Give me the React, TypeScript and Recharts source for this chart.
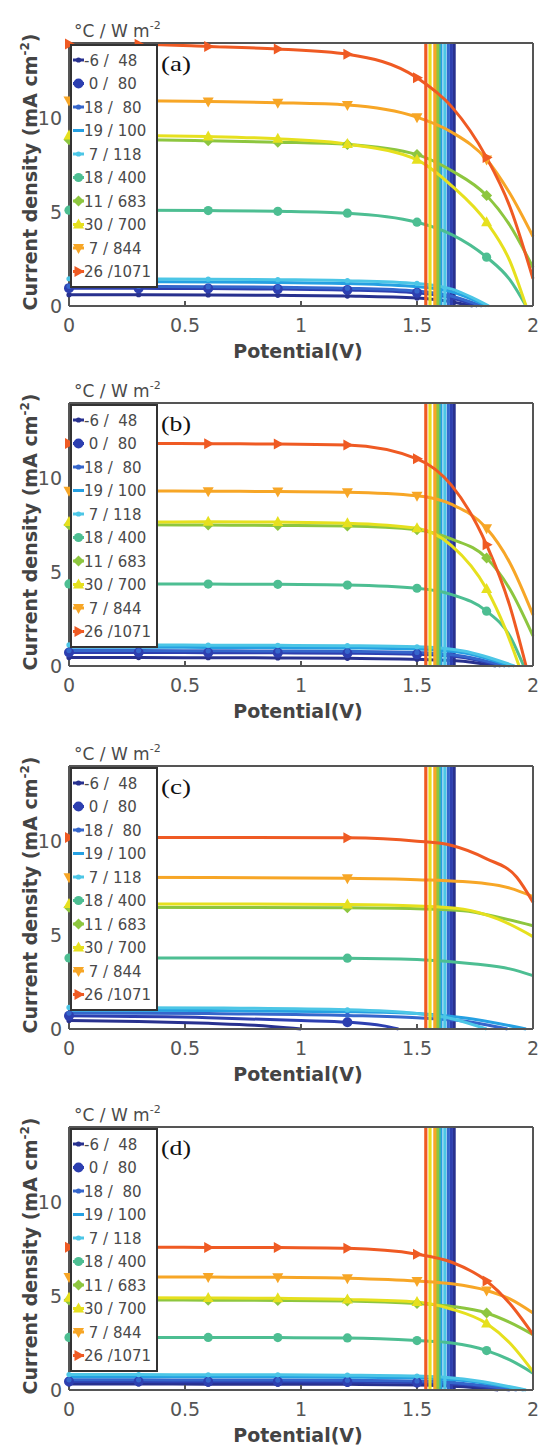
import React from 'react';
import { LineChart, Line, XAxis, YAxis, Legend } from 'recharts';

// ---- shared data ----
const seriesNames = ['-6 /  48', ' 0 /  80', '18 /  80', '19 / 100', ' 7 / 118', '18 / 400', '11 / 683', '30 / 700', ' 7 / 844', '26 /1071'];
const seriesColors = ['#28318F', '#2D3FB0', '#3566CC', '#25A0E2', '#4CC6E6', '#4DBE92', '#8DC63F', '#E6E01E', '#F7A626', '#EF5A23'];
const seriesMarkers = ['point', 'bigdot', 'point', 'none', 'point', 'circle', 'diamond', 'triUp', 'triDown', 'triRight'];
const xTicks = [0, 0.5, 1, 1.5, 2];
const yTicks = [0, 5, 10];
const panelTags = ['(a)', '(b)', '(c)', '(d)'];
const markerXsFull = [0, 0.3, 0.6, 0.9, 1.2, 1.5, 1.8];
const markerXsSparse = [0, 1.2];
const vlineX = [1.66, 1.648, 1.635, 1.603, 1.62, 1.595, 1.588, 1.556, 1.577, 1.538];

// ---- panel (a) curves: [potential V, current density mA cm^-2] ----
const curvesA = [
  [[0, 0.6], [0.3, 0.6], [0.6, 0.59], [0.9, 0.57], [1.2, 0.53], [1.5, 0.42], [1.62, 0.28], [1.74, 0]],
  [[0, 0.95], [0.3, 0.94], [0.6, 0.93], [0.9, 0.9], [1.2, 0.85], [1.5, 0.7], [1.65, 0.42], [1.76, 0]],
  [[0, 1.05], [0.3, 1.04], [0.6, 1.03], [0.9, 1.0], [1.2, 0.95], [1.5, 0.8], [1.65, 0.52], [1.78, 0]],
  [[0, 1.3], [0.3, 1.29], [0.6, 1.28], [0.9, 1.25], [1.2, 1.2], [1.5, 1.03], [1.65, 0.75], [1.8, 0]],
  [[0, 1.45], [0.3, 1.44], [0.6, 1.43], [0.9, 1.4], [1.2, 1.35], [1.5, 1.2], [1.65, 0.9], [1.81, 0]],
  [[0, 5.1], [0.3, 5.1], [0.6, 5.08], [0.9, 5.04], [1.2, 4.94], [1.5, 4.46], [1.65, 3.8], [1.8, 2.6], [1.9, 1.4], [1.97, 0]],
  [[0, 8.85], [0.3, 8.85], [0.6, 8.8], [0.9, 8.72], [1.2, 8.6], [1.5, 8.06], [1.65, 7.2], [1.8, 5.88], [1.9, 4.3], [2.0, 2.05]],
  [[0, 9.08], [0.3, 9.07], [0.6, 9.02], [0.9, 8.9], [1.2, 8.62], [1.5, 7.78], [1.65, 6.4], [1.8, 4.46], [1.9, 2.4], [1.97, 0]],
  [[0, 10.94], [0.3, 10.93], [0.6, 10.88], [0.9, 10.82], [1.2, 10.7], [1.5, 10.05], [1.65, 9.25], [1.8, 7.8], [1.9, 6.0], [2.0, 3.7]],
  [[0, 13.95], [0.3, 13.93], [0.6, 13.82], [0.9, 13.68], [1.2, 13.4], [1.5, 12.15], [1.65, 10.6], [1.8, 7.9], [1.9, 5.3], [2.0, 1.45]],
];

const curvesB = [
  [[0, 0.45], [0.3, 0.45], [0.6, 0.44], [0.9, 0.43], [1.2, 0.41], [1.5, 0.36], [1.7, 0.25], [1.84, 0]],
  [[0, 0.72], [0.3, 0.72], [0.6, 0.71], [0.9, 0.7], [1.2, 0.68], [1.5, 0.62], [1.7, 0.45], [1.86, 0]],
  [[0, 0.82], [0.3, 0.82], [0.6, 0.81], [0.9, 0.8], [1.2, 0.78], [1.5, 0.72], [1.7, 0.52], [1.88, 0]],
  [[0, 1.0], [0.3, 1.0], [0.6, 0.99], [0.9, 0.98], [1.2, 0.96], [1.5, 0.9], [1.7, 0.7], [1.9, 0]],
  [[0, 1.12], [0.3, 1.12], [0.6, 1.11], [0.9, 1.1], [1.2, 1.08], [1.5, 1.02], [1.7, 0.8], [1.92, 0]],
  [[0, 4.37], [0.3, 4.37], [0.6, 4.36], [0.9, 4.35], [1.2, 4.31], [1.5, 4.14], [1.65, 3.8], [1.8, 2.92], [1.9, 1.6], [1.96, 0]],
  [[0, 7.52], [0.3, 7.52], [0.6, 7.5], [0.9, 7.48], [1.2, 7.45], [1.5, 7.25], [1.65, 6.75], [1.8, 5.75], [1.9, 4.1], [2.0, 1.6]],
  [[0, 7.66], [0.3, 7.66], [0.6, 7.68], [0.9, 7.66], [1.2, 7.6], [1.5, 7.33], [1.65, 6.4], [1.8, 4.1], [1.88, 2.0], [1.94, 0]],
  [[0, 9.33], [0.3, 9.32], [0.6, 9.3], [0.9, 9.29], [1.2, 9.25], [1.5, 9.06], [1.65, 8.6], [1.8, 7.33], [1.9, 5.5], [2.0, 2.72]],
  [[0, 11.85], [0.3, 11.85], [0.6, 11.83], [0.9, 11.82], [1.2, 11.76], [1.5, 11.03], [1.65, 9.6], [1.8, 6.45], [1.9, 3.2], [1.97, 0]],
];

const curvesC = [
  [[0, 0.45], [0.3, 0.4], [0.6, 0.3], [0.8, 0.2], [1.0, 0]],
  [[0, 0.7], [0.6, 0.6], [1.0, 0.45], [1.2, 0.36], [1.35, 0.18], [1.42, 0]],
  [[0, 0.85], [0.6, 0.82], [1.2, 0.72], [1.5, 0.6], [1.7, 0.42], [1.89, 0]],
  [[0, 1.0], [0.6, 0.98], [1.2, 0.92], [1.5, 0.82], [1.7, 0.6], [1.97, 0]],
  [[0, 1.15], [0.6, 1.12], [1.2, 1.02], [1.5, 0.82], [1.65, 0.55], [1.8, 0]],
  [[0, 3.78], [0.6, 3.78], [1.2, 3.77], [1.5, 3.7], [1.75, 3.46], [1.9, 3.2], [2.0, 2.84]],
  [[0, 6.48], [0.6, 6.47], [1.2, 6.45], [1.5, 6.4], [1.7, 6.3], [1.85, 5.95], [2.0, 5.5]],
  [[0, 6.66], [0.6, 6.66], [1.2, 6.63], [1.5, 6.55], [1.7, 6.38], [1.85, 5.85], [2.0, 4.92]],
  [[0, 8.08], [0.6, 8.07], [1.2, 8.03], [1.5, 7.95], [1.8, 7.73], [1.9, 7.5], [2.0, 7.05]],
  [[0, 10.2], [0.6, 10.2], [1.2, 10.18], [1.5, 10.0], [1.65, 9.77], [1.8, 9.06], [1.93, 8.08], [2.0, 6.75]],
];

const curvesD = [
  [[0, 0.32], [0.3, 0.32], [0.6, 0.31], [0.9, 0.31], [1.2, 0.3], [1.5, 0.27], [1.7, 0.17], [1.85, 0]],
  [[0, 0.45], [0.3, 0.45], [0.6, 0.44], [0.9, 0.44], [1.2, 0.43], [1.5, 0.4], [1.7, 0.28], [1.9, 0]],
  [[0, 0.54], [0.3, 0.54], [0.6, 0.53], [0.9, 0.53], [1.2, 0.52], [1.5, 0.48], [1.7, 0.35], [1.93, 0]],
  [[0, 0.71], [0.3, 0.71], [0.6, 0.7], [0.9, 0.7], [1.2, 0.68], [1.5, 0.64], [1.7, 0.5], [1.96, 0]],
  [[0, 0.82], [0.3, 0.82], [0.6, 0.81], [0.9, 0.81], [1.2, 0.79], [1.5, 0.74], [1.7, 0.58], [1.97, 0]],
  [[0, 2.8], [0.3, 2.8], [0.6, 2.8], [0.9, 2.79], [1.2, 2.77], [1.5, 2.63], [1.65, 2.5], [1.8, 2.1], [1.9, 1.6], [2.0, 0.9]],
  [[0, 4.79], [0.3, 4.79], [0.6, 4.78], [0.9, 4.77], [1.2, 4.74], [1.5, 4.6], [1.65, 4.45], [1.8, 4.1], [1.9, 3.6], [2.0, 2.95]],
  [[0, 4.91], [0.3, 4.91], [0.6, 4.9], [0.9, 4.88], [1.2, 4.82], [1.5, 4.68], [1.65, 4.3], [1.8, 3.54], [1.9, 2.5], [2.0, 0.98]],
  [[0, 6.02], [0.3, 6.02], [0.6, 6.01], [0.9, 6.0], [1.2, 5.95], [1.5, 5.8], [1.65, 5.65], [1.8, 5.3], [1.9, 4.85], [2.0, 4.1]],
  [[0, 7.6], [0.3, 7.6], [0.6, 7.59], [0.9, 7.58], [1.2, 7.54], [1.5, 7.23], [1.65, 6.8], [1.8, 5.8], [1.9, 4.6], [2.0, 2.95]],
];

const panelCurves = [curvesA, curvesB, curvesC, curvesD];
const panelMarkerXs = [markerXsFull, markerXsFull, markerXsSparse, markerXsFull];
const panelTops = [0, 360, 723, 1084];

const Y_MAX = 14;
const FRAME = '#555';
const TEXT = '#4a4a4a';

function Marker({ kind, cx, cy, color }: { kind: string; cx: number; cy: number; color: string }) {
  switch (kind) {
    case 'point':
      return <circle cx={cx} cy={cy} r={2.6} fill={color} />;
    case 'bigdot':
      return <circle cx={cx} cy={cy} r={5} fill={color} />;
    case 'circle':
      return <circle cx={cx} cy={cy} r={4.6} fill={color} />;
    case 'diamond':
      return <polygon points={`${cx},${cy - 5.5} ${cx + 5.5},${cy} ${cx},${cy + 5.5} ${cx - 5.5},${cy}`} fill={color} />;
    case 'triUp':
      return <polygon points={`${cx},${cy - 6} ${cx + 5.5},${cy + 4} ${cx - 5.5},${cy + 4}`} fill={color} />;
    case 'triDown':
      return <polygon points={`${cx},${cy + 6} ${cx + 5.5},${cy - 4} ${cx - 5.5},${cy - 4}`} fill={color} />;
    case 'triRight':
      return <polygon points={`${cx + 6},${cy} ${cx - 4},${cy - 5.5} ${cx - 4},${cy + 5.5}`} fill={color} />;
    default:
      return <g />;
  }
}

const renderLegend = () => (
  <svg width={90} height={246} style={{ display: 'block' }}>
    <rect x={1} y={1} width={86} height={242} fill="#fff" stroke="#333" strokeWidth={2} />
    {seriesNames.map((name, i) => {
      const cy = 16 + i * 23.5;
      return (
        <g key={name + i}>
          <line x1={3} x2={14} y1={cy} y2={cy} stroke={seriesColors[i]} strokeWidth={3} />
          <Marker kind={seriesMarkers[i]} cx={8.5} cy={cy} color={seriesColors[i]} />
          <text x={14} y={cy + 5.5} fontSize={15} fontFamily="DejaVu Sans" fill={TEXT} xmlSpace="preserve" style={{ whiteSpace: 'pre' }}>
            {name}
          </text>
        </g>
      );
    })}
  </svg>
);

function Panel({ idx }: { idx: number }) {
  const curves = panelCurves[idx];
  const mxs = panelMarkerXs[idx];
  const lines: React.ReactNode[] = [];
  curves.forEach((curve, i) => {
    const data = curve.map(([x, y]) => ({ x, y, m: mxs.includes(x) }));
    const color = seriesColors[i];
    const kind = seriesMarkers[i];
    lines.push(
      <Line
        key={`c${i}`}
        data={data}
        dataKey="y"
        type="monotone"
        stroke={color}
        strokeWidth={3}
        isAnimationActive={false}
        activeDot={false}
        legendType="none"
        dot={(p: any) =>
          p.payload && p.payload.m ? (
            <Marker key={`d${i}-${p.index}`} kind={kind} cx={p.cx} cy={p.cy} color={color} />
          ) : (
            <g key={`d${i}-${p.index}`} />
          )
        }
      />
    );
    lines.push(
      <Line
        key={`v${i}`}
        data={[{ x: vlineX[i], y: 0 }, { x: vlineX[i], y: Y_MAX }]}
        dataKey="y"
        type="linear"
        stroke={color}
        strokeWidth={3.2}
        dot={false}
        activeDot={false}
        legendType="none"
        isAnimationActive={false}
      />
    );
  });

  return (
    <div style={{ position: 'absolute', left: 0, top: panelTops[idx], width: 542, height: 362 }}>
      <LineChart width={542} height={362} margin={{ top: 43, right: 9, bottom: 0, left: 0 }}>
        <XAxis
          type="number"
          dataKey="x"
          domain={[0, 2]}
          ticks={xTicks}
          tickFormatter={(v: number) => String(v)}
          height={56}
          tickSize={-5}
          tickMargin={18}
          stroke={FRAME}
          strokeWidth={2}
          tick={{ fontSize: 19, fill: '#555', fontFamily: 'DejaVu Sans' }}
        />
        <XAxis
          xAxisId="top"
          orientation="top"
          mirror
          type="number"
          domain={[0, 2]}
          ticks={xTicks}
          tick={false}
          tickSize={5}
          stroke={FRAME}
          strokeWidth={2}
        />
        <YAxis
          type="number"
          domain={[0, Y_MAX]}
          ticks={yTicks}
          tickFormatter={(v: number) => String(v)}
          width={69}
          tickSize={-5}
          tickMargin={12}
          stroke={FRAME}
          strokeWidth={2}
          tick={{ fontSize: 19, fill: '#555', fontFamily: 'DejaVu Sans' }}
        />
        <YAxis
          yAxisId="right"
          orientation="right"
          mirror
          type="number"
          domain={[0, Y_MAX]}
          ticks={yTicks}
          tick={false}
          tickSize={5}
          stroke={FRAME}
          strokeWidth={2}
        />
        {lines}
        <Legend
          content={renderLegend}
          layout="vertical"
          align="center"
          verticalAlign="middle"
          wrapperStyle={{ position: 'absolute', top: 44, left: 70, width: 90, height: 246 }}
        />
      </LineChart>
      <svg
        width={542}
        height={362}
        style={{ position: 'absolute', left: 0, top: 0, pointerEvents: 'none' }}
      >
        <text x={74} y={37} fontSize={17} fontFamily="DejaVu Sans" fill={TEXT}>
          °C / W m<tspan fontSize={11} dy={-8}>-2</tspan>
        </text>
        <text x={161} y={71} fontSize={22} fontFamily="Liberation Serif" fill="#111" textLength={30} lengthAdjust="spacingAndGlyphs">
          {panelTags[idx]}
        </text>
        <text x={298} y={358} fontSize={19} fontWeight="bold" fontFamily="DejaVu Sans" fill="#444" textAnchor="middle">
          Potential(V)
        </text>
        <text transform="translate(37,172) rotate(-90)" fontSize={19} fontWeight="bold" fontFamily="DejaVu Sans" fill="#444" textAnchor="middle">
          Current density (mA cm<tspan fontSize={12} dy={-8}>-2</tspan><tspan dy={8}>)</tspan>
        </text>
      </svg>
    </div>
  );
}

export default function App() {
  return (
    <div style={{ position: 'absolute', left: 0, top: 0, width: 542, height: 1449, background: '#fff' }}>
      {[0, 1, 2, 3].map((i) => (
        <Panel key={i} idx={i} />
      ))}
    </div>
  );
}
